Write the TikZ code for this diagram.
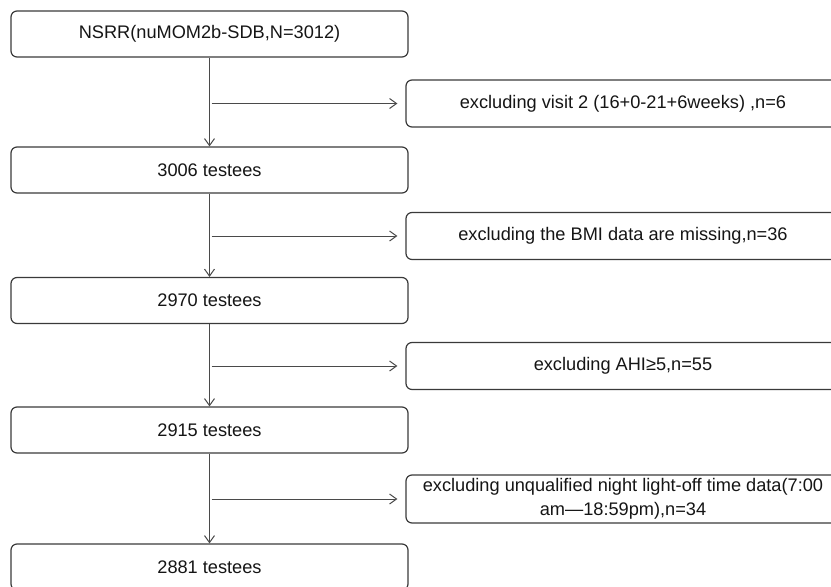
\documentclass[tikz,border=0pt]{standalone}
\usepackage{fontspec}
\setmainfont{Liberation Sans}
\usetikzlibrary{arrows.meta}
\definecolor{edgegray}{HTML}{3A3A3A}
\definecolor{linegray}{HTML}{4A4A4A}
\definecolor{inkblack}{HTML}{151515}
\begin{document}
\begin{tikzpicture}[x=1pt,y=-1pt,
  box/.style={draw=edgegray,line width=1.2pt,rounded corners=6pt,
    inner sep=0pt,align=center,text=inkblack,
    font=\fontsize{18.2}{23.5}\selectfont},
  mainbox/.style={box,minimum width=397pt,minimum height=46pt},
  sidebox/.style={box,minimum width=434pt,minimum height=47pt},
  arr/.style={draw=linegray,line width=1pt,
    -{Straight Barb[length=7pt,width=10pt,line width=1pt]}}]
\useasboundingbox (0,0) rectangle (831,587);
\clip (0,0) rectangle (831,587);

% main flow
\node[mainbox] (s0) at (209.5,34)  {NSRR(nuMOM2b-SDB,N=3012)};
\node[mainbox] (s1) at (209.5,170) {3006 testees};
\node[mainbox] (s2) at (209.5,300.5) {2970 testees};
\node[mainbox] (s3) at (209.5,430) {2915 testees};
\node[mainbox] (s4) at (209.5,567) {2881 testees};

% exclusions
\node[sidebox] (e1) at (623,103.5) {excluding visit 2 (16+0-21+6weeks) ,n=6};
\node[sidebox] (e2) at (623,236)   {excluding the BMI data are missing,n=36};
\node[sidebox] (e3) at (623,366)   {excluding AHI≥5,n=55};
\node[sidebox,minimum height=48pt] (e4) at (623,499)
  {excluding unqualified night light-off time data(7:00\\am—18:59pm),n=34};

% vertical arrows
\draw[arr] (s0.south) -- (s1.north);
\draw[arr] (s1.south) -- (s2.north);
\draw[arr] (s2.south) -- (s3.north);
\draw[arr] (s3.south) -- (s4.north);

% side arrows
\foreach \e/\s in {e1/s0,e2/s1,e3/s2,e4/s3}{
  \draw[arr] ([xshift=2pt]\e.west -| \s.south) -- ([xshift=-8pt]\e.west);
}
\end{tikzpicture}
\end{document}
